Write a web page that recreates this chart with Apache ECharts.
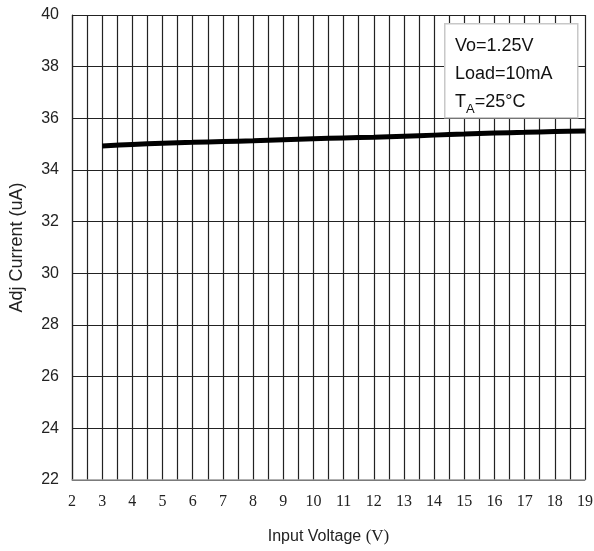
<!DOCTYPE html>
<html>
<head>
<meta charset="utf-8">
<script src="https://cdn.jsdelivr.net/npm/echarts@6/dist/echarts.min.js"></script>
<style>
  html, body { margin: 0; padding: 0; background: #fff; }
  #chart { width: 594px; height: 551px; }
</style>
</head>
<body>
<div id="chart"></div>
<script>
// Input voltage (V) and measured adjust-pin current (uA)
const inputVoltage = [3, 4, 5, 6, 7, 8, 9, 10, 11, 12, 13, 14, 15, 16, 17, 18, 19];
const adjCurrent = [34.93, 34.99, 35.04, 35.07, 35.10, 35.13, 35.17, 35.21, 35.24, 35.27, 35.31, 35.35, 35.39, 35.43, 35.46, 35.49, 35.51];
const conditionLines = ['Vo=1.25V', 'Load=10mA'];

const SERIF = '"Liberation Serif", "Times New Roman", serif';
const SANS = '"Liberation Sans", Arial, sans-serif';

const chart = echarts.init(document.getElementById('chart'));

chart.setOption({
  animation: false,
  grid: { left: 72, right: 9, top: 15, bottom: 71, show: false, containLabel: false, outerBoundsMode: 'none' },
  xAxis: {
    type: 'value',
    min: 2,
    max: 19,
    interval: 0.5,
    name: 'Input Voltage {v|(V)}',
    nameLocation: 'middle',
    nameGap: 48,
    nameTextStyle: {
      fontFamily: SANS, fontSize: 16, color: '#222',
      rich: { v: { fontFamily: SERIF, fontSize: 17, color: '#222' } }
    },
    axisLine: { show: true, lineStyle: { color: '#999', width: 1.5 } },
    axisTick: { show: false },
    axisLabel: {
      margin: 14,
      fontFamily: SERIF,
      fontSize: 16,
      color: '#222',
      formatter: v => (Number.isInteger(v) ? String(v) : '')
    },
    splitLine: { show: true, lineStyle: { color: '#222', width: 1.2 } }
  },
  yAxis: {
    type: 'value',
    min: 22,
    max: 40,
    interval: 2,
    name: 'Adj Current (uA)',
    nameLocation: 'middle',
    nameGap: 46,
    nameTextStyle: { fontFamily: SANS, fontSize: 18, color: '#222' },
    axisLine: { show: true, lineStyle: { color: '#222', width: 1.2 } },
    axisTick: { show: false },
    axisLabel: { margin: 13, fontFamily: SANS, fontSize: 16, color: '#222' },
    splitLine: { show: true, lineStyle: { color: '#222', width: 1.2 } }
  },
  series: [{
    type: 'line',
    data: inputVoltage.map((v, i) => [v, adjCurrent[i]]),
    showSymbol: false,
    smooth: 0.3,
    lineStyle: { color: '#000', width: 5 }
  }],
  graphic: [
    {
      type: 'rect',
      left: 444, top: 23,
      shape: { width: 133, height: 94 },
      style: { fill: '#fff', stroke: '#c8c8c8', lineWidth: 1.5 },
      z: 10
    },
    {
      type: 'text',
      left: 455, top: 32,
      z: 11,
      style: {
        text: conditionLines.join('\n') + '\n{t|T}{s|A}{t|=25°C}',
        fontFamily: SANS,
        fontSize: 18,
        lineHeight: 28,
        fill: '#111',
        rich: {
          t: { fontFamily: SANS, fontSize: 18, fill: '#111', lineHeight: 28 },
          s: { fontFamily: SANS, fontSize: 13, fill: '#111', verticalAlign: 'bottom', padding: [8, 0, 0, 0] }
        }
      }
    }
  ]
});
</script>
</body>
</html>
